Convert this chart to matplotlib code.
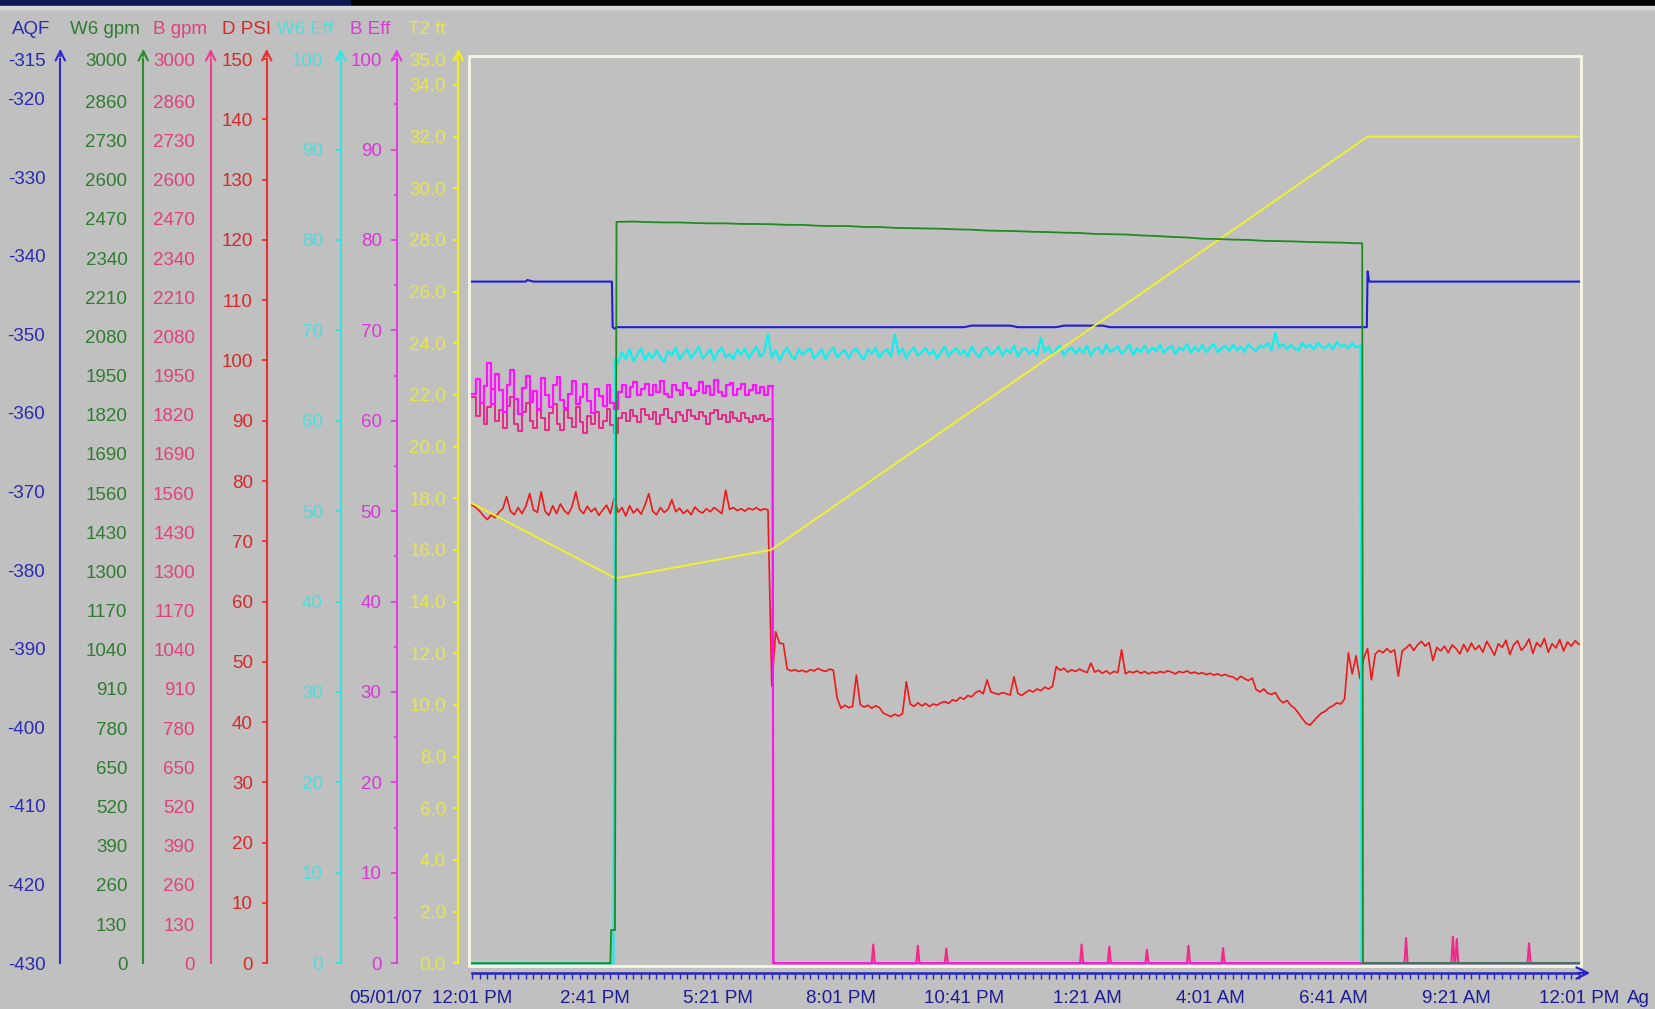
import numpy as np
import matplotlib
matplotlib.use("Agg")
import matplotlib.pyplot as plt
from matplotlib.patches import Rectangle
from matplotlib.ticker import MultipleLocator

plt.rcParams["font.family"] = ["Liberation Sans", "DejaVu Sans"]
plt.rcParams["font.size"] = 13.5

# ================================================================
# DATA  (time = minutes after 05/01/07 12:01 PM)
# ================================================================

time_ticks = [0, 160, 320, 480, 640, 800, 960, 1120, 1280, 1440]
time_labels = ["12:01 PM", "2:41 PM", "5:21 PM", "8:01 PM", "10:41 PM",
               "1:21 AM", "4:01 AM", "6:41 AM", "9:21 AM", "12:01 PM"]

# AQF level (ft)
aqf_t = [0, 70, 72, 80, 182, 183, 186, 188, 640, 650, 700, 710, 760, 770,
         820, 830, 1164, 1165, 1167, 1440]
aqf_v = [-343.3, -343.3, -343.1, -343.3, -343.3, -349.1, -349.3, -349.1,
         -349.1, -348.9, -348.9, -349.1, -349.1, -348.9, -348.9, -349.1,
         -349.1, -342.0, -343.3, -343.3]

# W6 flow (gpm), 20 min samples from t=190 while running
w6_run_start = 190
w6_gpm_run = [
    2460, 2461, 2459, 2458, 2458, 2456, 2455, 2455, 2453, 2453,
    2452, 2450, 2450, 2447, 2446, 2446, 2443, 2443, 2440, 2439,
    2438, 2437, 2435, 2434, 2431, 2430, 2429, 2427, 2426, 2424,
    2423, 2420, 2419, 2418, 2415, 2413, 2410, 2408, 2404, 2403,
    2401, 2400, 2397, 2396, 2395, 2393, 2392, 2391, 2389,
]
w6_gpm_head_t = [0, 180, 181, 186, 188]
w6_gpm_head_v = [0, 0, 110, 110, 2460]
w6_gpm_tail_t = [1158, 1159, 1440]
w6_gpm_tail_v = [2389, 0, 0]

# W6 efficiency (%), 5 min samples from t=190
w6_eff_run = [
    66.4, 67.6, 66.8, 67.9, 66.6, 67.3, 68.0, 66.7, 67.5, 66.9,
    67.8, 67.0, 66.5, 67.7, 67.2, 68.1, 66.8, 67.4, 67.9, 66.9,
    67.5, 68.2, 66.9, 67.3, 67.9, 66.7, 67.6, 68.1, 67.0, 67.4,
    66.8, 67.9, 67.3, 68.0, 66.9, 67.6, 68.2, 67.1, 67.5, 69.6,
    67.0, 67.8, 66.7, 67.5, 68.1, 67.2, 66.8, 67.9, 67.3, 67.7,
    68.0, 66.9, 67.4, 67.9, 66.8, 67.6, 68.1, 67.0, 67.5, 67.8,
    66.9, 67.7, 68.0, 67.2, 66.8, 67.9, 67.4, 68.1, 67.0, 67.6,
    67.9, 67.1, 69.5, 67.4, 68.0, 66.9, 67.7, 68.1, 67.2, 67.6,
    68.0, 67.3, 67.8, 66.9, 67.6, 68.2, 67.1, 67.7, 68.0, 67.3,
    67.8, 67.1, 68.2, 67.5, 67.0, 67.9, 68.1, 67.3, 67.7, 68.2,
    67.2, 67.9, 67.5, 68.3, 67.1, 67.8, 68.0, 67.4, 67.9, 67.2,
    69.2, 67.6, 68.2, 67.3, 67.9, 68.3, 67.2, 67.8, 68.1, 67.4,
    68.0, 67.5, 68.3, 67.2, 67.9, 68.1, 67.4, 68.4, 67.6, 67.9,
    68.2, 67.4, 67.8, 68.4, 67.3, 68.0, 67.6, 68.3, 67.5, 68.1,
    67.7, 68.4, 67.5, 68.0, 68.3, 67.4, 68.1, 67.8, 68.5, 67.5,
    68.2, 67.7, 68.4, 67.6, 68.1, 68.5, 67.6, 68.0, 68.3, 67.7,
    68.4, 67.8, 68.2, 67.6, 68.5, 68.0, 67.7, 68.3, 68.1, 68.6,
    67.8, 69.7, 68.1, 68.5, 67.9, 68.4, 68.0, 67.8, 68.6, 68.1,
    68.4, 67.9, 68.6, 68.2, 68.0, 68.5, 67.9, 68.7, 68.2, 68.4,
    68.0, 68.6, 68.1, 68.3,
]
w6_eff_head_t = [0, 184, 186]
w6_eff_head_v = [0, 0, 66.8]
w6_eff_tail_t = [1156, 1157, 1440]
w6_eff_tail_v = [68.3, 0, 0]

# B flow (gpm) and B efficiency (%), 5 min samples from t=0
b_gpm_run = [
    1880, 1815, 1860, 1790, 1845, 1905, 1800, 1835, 1775, 1850,
    1880, 1790, 1765, 1830, 1860, 1800, 1775, 1840, 1810, 1770,
    1825, 1855, 1790, 1770, 1835, 1810, 1780, 1845, 1795, 1760,
    1815, 1790, 1830, 1775, 1800, 1840, 1785, 1760, 1810, 1825,
    1800, 1835, 1815, 1795, 1840, 1820, 1805, 1830, 1790, 1820,
    1840, 1810, 1795, 1830, 1820, 1800, 1835, 1815, 1805, 1830,
    1815, 1790, 1825, 1835, 1805, 1820, 1795, 1830, 1810, 1800,
    1825, 1810, 1795, 1815, 1805, 1820, 1800, 1805,
]
b_eff_run = [
    63.0, 64.6, 62.0, 63.8, 66.4, 61.8, 65.2, 63.4, 61.0, 64.0,
    65.6, 62.4, 60.8, 63.6, 64.9, 62.1, 63.3, 61.2, 64.7, 62.9,
    61.5, 63.9, 64.8, 62.3, 61.4, 63.0, 64.4, 61.9, 62.6, 64.1,
    62.2, 60.9, 63.5, 62.7, 61.6, 63.9, 62.0, 61.3, 63.2, 64.0,
    62.6, 63.7, 64.3, 62.9, 63.5, 64.1, 62.8, 63.9, 63.2, 64.4,
    63.0, 62.6, 64.0, 63.4, 62.9, 64.2, 63.6, 62.8, 63.3, 64.3,
    63.1, 63.8, 62.9, 64.5, 63.2, 62.7, 63.9, 64.2, 62.8, 63.5,
    64.1, 62.9, 63.4, 64.0, 63.1, 63.7, 62.8, 63.8,
]
b_stop = 391
b_gpm_spike_t = [522, 580, 617, 793, 829, 878, 932, 977, 1215, 1276, 1281, 1375]
b_gpm_spike_h = [62, 58, 48, 62, 55, 45, 58, 50, 84, 88, 80, 66]

# D discharge pressure (psi), 5 min samples from t=0
d_psi = [
    76.0, 75.6, 75.0, 74.2, 73.6, 74.4, 73.9, 74.8, 75.4, 77.4,
    75.0, 74.4, 75.6, 74.6, 75.8, 77.9, 75.2, 74.8, 78.2, 75.0,
    74.3, 75.9, 74.6, 76.2, 75.1, 74.5, 75.7, 78.2, 75.3, 74.6,
    75.8, 74.9, 75.5, 74.3, 75.2, 76.0, 74.6, 77.2, 74.8, 75.6,
    74.2, 75.9, 74.7, 75.4, 74.5, 76.0, 77.9, 75.0, 74.4, 75.6,
    74.8, 75.3, 76.9, 74.9, 75.5, 74.6, 75.2, 74.4, 75.7, 75.0,
    74.7, 75.4, 74.9, 75.6, 75.1, 74.6, 78.5, 75.3, 75.6, 75.1,
    75.4, 75.0, 75.5, 75.2, 75.6, 75.1, 75.4, 75.2, 46.0, 55.0,
    53.1, 53.0, 48.8, 48.5, 48.7, 48.4, 48.6, 48.3, 48.7, 48.5,
    48.9, 48.6, 48.4, 48.8, 48.6, 44.0, 42.3, 42.8, 42.4, 42.6,
    47.8, 42.9, 42.5, 42.8, 42.3, 42.7, 42.4, 41.5, 41.2, 40.9,
    41.3, 41.0, 41.4, 46.7, 43.0, 42.6, 43.2, 42.7, 43.1, 42.6,
    43.0, 42.8, 43.2, 43.4, 43.1, 43.7, 43.5, 44.1, 43.8, 44.4,
    44.2, 44.9, 45.2, 44.7, 47.0, 45.0, 44.8, 44.6, 44.9, 44.7,
    44.5, 47.5, 44.8, 44.4, 44.9, 45.3, 45.0, 45.5, 45.2, 45.8,
    45.5, 45.9, 49.2, 48.6, 48.9, 48.3, 48.7, 48.4, 48.8, 48.5,
    48.2, 49.8, 48.3, 48.6, 48.1, 48.5, 48.0, 48.4, 48.2, 52.0,
    48.0, 48.4, 48.2, 48.5, 48.1, 48.4, 48.0, 48.3, 48.1, 48.4,
    48.2, 48.5, 48.3, 48.0, 48.4, 48.2, 48.5, 48.1, 48.3, 48.0,
    48.2, 47.9, 48.1, 47.8, 48.0, 47.7, 47.9, 47.6, 47.5, 47.0,
    47.6, 47.2, 46.9, 47.3, 45.4, 45.0, 45.5, 44.8, 44.6, 44.9,
    43.8, 43.2, 43.6, 42.8, 42.3, 41.5, 40.6, 39.8, 39.5, 40.2,
    40.9, 41.5, 41.8, 42.4, 42.7, 43.2, 43.0, 43.8, 51.5, 48.0,
    51.0, 47.2, 50.6, 52.2, 47.0, 51.3, 51.9, 51.5, 52.2, 51.6,
    52.0, 47.6, 51.8, 52.3, 52.9, 51.9, 52.8, 53.4, 52.6, 53.2,
    50.2, 52.4, 51.8, 52.6, 51.5, 52.8, 52.2, 51.3, 52.9, 51.7,
    53.1, 52.0, 52.7, 51.6, 53.4, 52.3, 51.1, 53.0, 52.4, 53.6,
    51.2, 52.8, 53.5, 51.9, 52.6, 53.8, 51.4, 53.2, 52.5, 53.9,
    51.6, 53.0, 52.3, 53.7, 51.8, 53.3, 52.6, 53.5, 52.9,
]

# T2 level (ft)
t2_t = [0, 187, 389, 1165, 1440]
t2_v = [17.8, 14.9, 16.0, 32.0, 32.0]

# ================================================================
# STYLE / LAYOUT
# ================================================================

W, H = 1656, 1009
L, R, T, B = 469, 1581, 59.1, 963.2      # plot area in pixels
POS = [L / W, 1 - B / H, (R - L) / W, (B - T) / H]
XLIM = (-3.9, 1442.6)
PT = 0.72                                 # points per pixel at dpi 100

BG = "#c0c0c0"
XBLUE = "#2424c4"

fig = plt.figure(figsize=(16.56, 10.09), dpi=100)
fig.patch.set_facecolor(BG)

# top title strip (cut off in the original)
fig.patches.append(Rectangle((0, 1 - 6 / H), 1, 6 / H, transform=fig.transFigure,
                             color="#000000", zorder=0))
fig.patches.append(Rectangle((0, 1 - 6 / H), 350 / W, 6 / H, transform=fig.transFigure,
                             color="#0c1850", zorder=1))
fig.patches.append(Rectangle((0, 1 - 9 / H), 1, 3 / H, transform=fig.transFigure,
                             color="#d6d6d6", zorder=1))

# ---- main (time) axes
ax0 = fig.add_axes(POS)
ax0.set_facecolor("none")
ax0.set_xlim(*XLIM)
ax0.set_ylim(0, 1)
ax0.set_yticks([])
for s in ["top", "right", "left"]:
    ax0.spines[s].set_visible(False)
ax0.spines["bottom"].set_position(("outward", 9.8 * PT))
ax0.spines["bottom"].set_bounds(0, 1440)
ax0.spines["bottom"].set_color(XBLUE)
ax0.spines["bottom"].set_linewidth(1.8)
ax0.set_xticks(time_ticks, time_labels)
ax0.xaxis.set_minor_locator(MultipleLocator(10))
ax0.tick_params(axis="x", which="both", colors=XBLUE, labelcolor="#1c1c96",
                length=4, width=1, pad=8)
ax0.add_patch(Rectangle((0, -0.0033), 1, 1.0066, transform=ax0.transAxes,
                        fill=False, ec="#f6f6e0", lw=2, clip_on=False))
ax0.annotate("", xy=(1593, H - 973), xytext=(1575, H - 973), xycoords="figure pixels",
             arrowprops=dict(arrowstyle="->,head_length=0.6,head_width=0.3",
                             color=XBLUE, lw=1.6))
ax0.annotate("05/01/07", xy=(0, 0), xycoords=("data", "axes fraction"),
             xytext=(-49 * PT, -34.8 * PT), textcoords="offset points",
             ha="right", va="center", color="#1c1c96")
ax0.annotate("Ag", xy=(1440, 0), xycoords=("data", "axes fraction"),
             xytext=(48 * PT, -34.8 * PT), textcoords="offset points",
             ha="left", va="center", color="#1c1c96")


def value_axis(x_px, lo, hi, color, label_color, ticks, labels, tick_len, pad_px):
    a = fig.add_axes(POS)
    a.patch.set_visible(False)
    a.set_xlim(*XLIM)
    a.set_ylim(lo, hi)
    a.set_xticks([])
    for s in ["top", "right", "bottom"]:
        a.spines[s].set_visible(False)
    sp = a.spines["left"]
    sp.set_position(("outward", (L - x_px) * PT))
    sp.set_color(color)
    sp.set_linewidth(1.5)
    a.set_yticks(ticks, labels)
    a.tick_params(axis="y", colors=color, labelcolor=label_color,
                  length=tick_len * PT, width=1.3, pad=pad_px * PT)
    ax0.annotate("", xy=(x_px, H - 46), xytext=(x_px, H - T), xycoords="figure pixels",
                 arrowprops=dict(arrowstyle="->,head_length=0.5,head_width=0.25",
                                 color=color, lw=1.5))
    return a


gpm_ticks = list(range(0, 2861, 130)) + [3000]
gpm_labels = [str(v) for v in gpm_ticks]

ax_aqf = value_axis(60.3, -430, -315, "#2c2cc8", "#2a2ab4",
                    [-315] + list(range(-320, -431, -10)),
                    [str(v) for v in [-315] + list(range(-320, -431, -10))], 0, 15)
ax_w6 = value_axis(143.3, 0, 3000, "#2e8b2e", "#2e7d2e", gpm_ticks, gpm_labels, 0, 16)
ax_bg = value_axis(210.7, 0, 3000, "#e8408c", "#e0407e", gpm_ticks, gpm_labels, 0, 15.7)
ax_d = value_axis(266.7, 0, 150, "#e83030", "#d82828", list(range(0, 151, 10)),
                  [str(v) for v in range(0, 151, 10)], 5, 8.7)
ax_we = value_axis(340.7, 0, 100, "#30e4e4", "#4cdede", list(range(0, 101, 10)),
                   [str(v) for v in range(0, 101, 10)], 5, 12.7)
ax_be = value_axis(396.7, 0, 100, "#e040e0", "#d838d8", list(range(0, 101, 10)),
                   [str(v) for v in range(0, 101, 10)], 6, 9)
ax_be.yaxis.set_minor_locator(MultipleLocator(5))
ax_be.tick_params(axis="y", which="minor", colors="#e040e0", length=3 * PT, width=1.2)
t2_ticks = list(range(0, 35, 2)) + [35]
ax_t2 = value_axis(458.3, 0, 35, "#f0f020", "#e6e64c", t2_ticks,
                   ["%.1f" % v for v in t2_ticks], 5, 7.3)

# green W6 flow trace sits above the cyan efficiency trace
ax_w6.set_zorder(ax_we.get_zorder() + 1)

# header labels
headers = [("AQF", 12, "#2a2ab4"), ("W6 gpm", 70, "#2e7d2e"), ("B gpm", 153, "#e0407e"),
           ("D PSI", 222, "#d82828"), ("W6 Eff", 277, "#52dcdc"),
           ("B Eff", 350, "#d838d8"), ("T2 ft", 408, "#e6e64c")]
for txt, x, c in headers:
    fig.text(x / W, 1 - 30 / H, txt, color=c, ha="left", va="center")

# ================================================================
# TRACES
# ================================================================

LW = 1.2

ax_aqf.plot(aqf_t, aqf_v, color="#1e1ed2", lw=LW + 0.3, clip_on=False)

w6_run_t = list(w6_run_start + 20 * np.arange(len(w6_gpm_run)))
ax_w6.plot(w6_gpm_head_t + w6_run_t + w6_gpm_tail_t,
           w6_gpm_head_v + w6_gpm_run + w6_gpm_tail_v,
           color="#1f8a1f", lw=LW + 0.1, clip_on=False)

b_run_t = list(5 * np.arange(len(b_gpm_run)))
ax_bg.plot(b_run_t + [b_stop], b_gpm_run + [b_gpm_run[-1]],
           color="#e8288a", lw=LW + 0.2, drawstyle="steps-post", clip_on=False)
tail_t, tail_v = [b_stop, b_stop + 1], [b_gpm_run[-1], 0]
for s, h in zip(b_gpm_spike_t, b_gpm_spike_h):
    tail_t += [s - 2, s, s + 2]
    tail_v += [0, h, 0]
tail_t.append(1440)
tail_v.append(0)
ax_bg.plot(tail_t, tail_v, color="#f02a8a", lw=LW + 0.3, clip_on=False)

d_t = 5 * np.arange(len(d_psi))
ax_d.plot(d_t, d_psi, color="#f01818", lw=LW, clip_on=False)

we_run_t = list(190 + 5 * np.arange(len(w6_eff_run)))
ax_we.plot(w6_eff_head_t + we_run_t + w6_eff_tail_t,
           w6_eff_head_v + w6_eff_run + w6_eff_tail_v,
           color="#10eeee", lw=LW + 0.4, clip_on=False)

be_t = list(5 * np.arange(len(b_eff_run)))
ax_be.plot(be_t + [b_stop], b_eff_run + [b_eff_run[-1]],
           color="#ff10ff", lw=LW + 0.4, drawstyle="steps-post", clip_on=False)
ax_be.plot([b_stop, b_stop + 1, 1440], [b_eff_run[-1], 0, 0],
           color="#ff10ff", lw=LW + 0.2, clip_on=False)

ax_t2.plot(t2_t, t2_v, color="#f0f030", lw=LW + 0.2, clip_on=False)

fig.savefig("out.png", dpi=100, facecolor=BG)
